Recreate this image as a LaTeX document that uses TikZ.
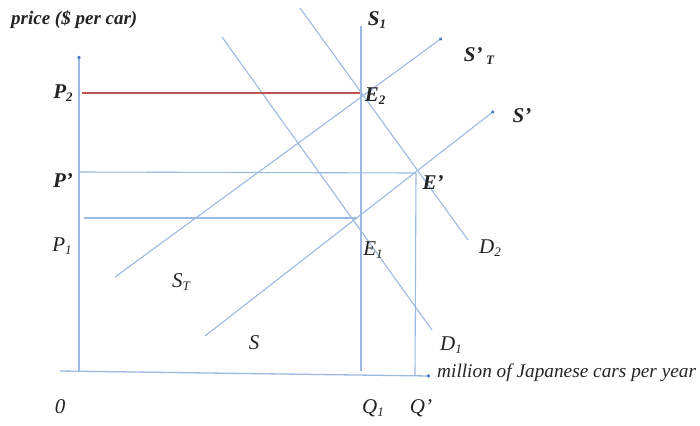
\documentclass[tikz,border=0pt]{standalone}
\usepackage{fontspec}
\setmainfont{Liberation Serif}
\usetikzlibrary{arrows.meta}
\definecolor{lblue}{RGB}{155,185,225}
\definecolor{dblue}{RGB}{70,120,195}
\definecolor{lred}{RGB}{190,85,80}
\definecolor{txt}{RGB}{35,35,35}
\newcommand\lsub[1]{\raisebox{-0.35ex}{\fontsize{13}{13}\selectfont #1}}
\begin{document}
\begin{tikzpicture}[x=1pt,y=-1pt,
  curve/.style={draw=lblue, line width=1.1pt},
  axisline/.style={draw=lblue, line width=1.3pt},
  dotend/.style={-{Circle[length=3.2pt,fill=dblue,color=dblue]}},
  redline/.style={draw=lred, line width=2.6pt},
  lab/.style={text=txt, inner sep=0pt, font=\fontsize{21}{21}\selectfont\itshape},
  blab/.style={lab, font=\fontsize{21}{21}\selectfont\bfseries\itshape},
  axlab/.style={text=txt, inner sep=0pt, font=\fontsize{19.3}{20}\selectfont\itshape}]
\useasboundingbox (0,0) rectangle (700,425);
% axes
\coordinate (yb) at (79,372);
\coordinate (yt) at (79,56);
\coordinate (xl) at (60,371);
\coordinate (xr) at (430,376);
\draw[axisline,dotend] (yb) -- (yt);
\draw[axisline,dotend] (xl) -- (xr);
% equilibrium points
\coordinate (E2) at (360,93);
\coordinate (Ep) at (416,173);
\coordinate (E1) at (357,218);
% curve ends
\coordinate (S1t) at (361,26);
\coordinate (S1b) at (361,371);
\coordinate (STa) at (115,277);
\coordinate (STb) at (442,38);
\coordinate (Sa) at (205,336);
\coordinate (Sb) at (494,111);
\coordinate (D2a) at (300,8);
\coordinate (D2b) at (468,240);
\coordinate (D1a) at (222,37);
\coordinate (D1b) at (432,330);
\coordinate (Pp) at (79,172);
\coordinate (P1) at (84,218);
\coordinate (P2) at (82,93);
\coordinate (Qp) at (415,375);
% lines
\draw[curve] (S1t) -- (S1b);
\draw[curve,dotend] (STa) -- (STb);
\draw[curve,dotend] (Sa) -- (Sb);
\draw[curve] (D2a) -- (D2b);
\draw[curve] (D1a) -- (D1b);
\draw[curve] (Pp) -- (Ep);
\draw[curve] (P1) -- (E1);
\draw[curve] (Ep) -- (Qp);
\draw[redline] (P2) -- (E2);
% labels
\node[axlab, font=\fontsize{19}{19}\selectfont\bfseries\itshape, anchor=west] (ylab) at (11,20) {price (\$ per car)};
\node[axlab, anchor=west] (xlab) at (437,373) {million of Japanese cars per year};
\node[blab] (lP2) at (63,93) {P\lsub{2}};
\node[blab] (lPp) at (63,181) {P'};
\node[lab] (lP1) at (62,246) {P\lsub{1}};
\node[lab] (l0) at (60,407) {0};
\node[lab] (lQ1) at (373,408) {Q\lsub{1}};
\node[lab] (lQp) at (421,408) {Q'};
\node[blab] (lS1) at (377,20) {S\lsub{1}};
\node[blab] (lSpT) at (479,56) {S'\,\lsub{T}};
\node[blab] (lSp) at (522,116) {S'};
\node[blab] (lE2) at (375,96) {E\lsub{2}};
\node[blab] (lEp) at (433,183) {E'};
\node[lab] (lE1) at (373,250) {E\lsub{1}};
\node[lab] (lD2) at (490,248) {D\lsub{2}};
\node[lab] (lD1) at (451,345) {D\lsub{1}};
\node[lab] (lST) at (181,282) {S\lsub{T}};
\node[lab] (lS) at (254,343) {S};
\end{tikzpicture}
\end{document}
